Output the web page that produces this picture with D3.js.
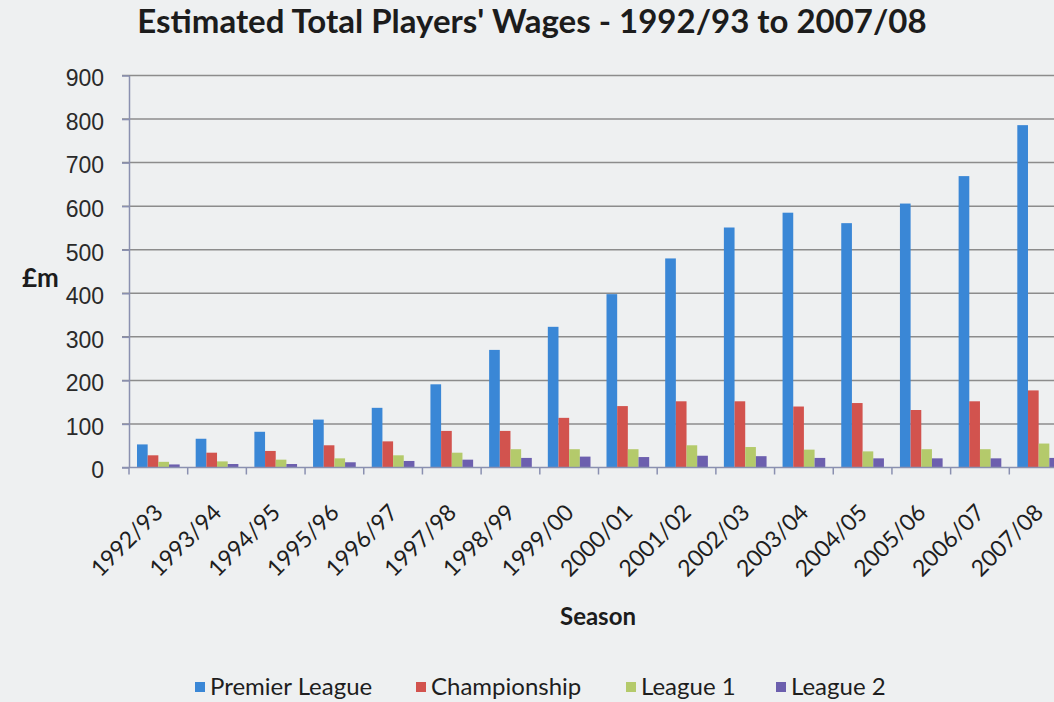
<!DOCTYPE html>
<html lang="en">
<head>
<meta charset="utf-8">
<title>Estimated Total Players' Wages</title>
<script src="https://d3js.org/d3.v7.min.js"></script>
<style>
  body { margin: 0; background: #eef0f1; }
  svg { display: block; font-family: Lato, "Open Sans", sans-serif; }
  .grid line { stroke: #8c8c8c; stroke-width: 1.5px; }
  .axis path, .axis line { stroke: #8a90b0; stroke-width: 1.5px; }
  .axis text { font-size: 23px; fill: #2a2a2a; }
</style>
</head>
<body>
<div id="chart"></div>
<script>
// values (£m)
var seasons = ["1992/93","1993/94","1994/95","1995/96","1996/97","1997/98","1998/99","1999/00",
               "2000/01","2001/02","2002/03","2003/04","2004/05","2005/06","2006/07","2007/08"]
var premierLeague = [53, 66, 82, 110, 137, 191, 270, 323, 398, 480, 551, 585, 561, 606, 669, 786]
var championship  = [28, 34, 38, 51, 60, 84, 84, 114, 141, 152, 152, 140, 148, 132, 152, 177]
var league1       = [13, 14, 18, 21, 28, 34, 42, 42, 42, 51, 47, 41, 37, 42, 42, 55]
var league2       = [7, 8, 8, 12, 15, 18, 22, 25, 24, 27, 26, 22, 21, 21, 21, 22]
var seriesNames = ["Premier League", "Championship", "League 1", "League 2"]
var seriesColors = ["#3a87d6", "#d2534e", "#b4ca6b", "#6c5fae"]
var yTicks = [0, 100, 200, 300, 400, 500, 600, 700, 800, 900]

var w = 1054, h = 702
var plotLeft = 129, plotRight = 1068, plotTop = 75.5, plotBottom = 467.5

var svg = d3.select("#chart").append("svg")
    .attr("width", w).attr("height", h)

var allSeries = [premierLeague, championship, league1, league2]
var data = seasons.map(function(s, i) {
    return { season: s, values: allSeries.map(function(arr, k) { return { key: seriesNames[k], value: arr[i] } }) }
})

var x0 = d3.scaleBand().domain(seasons).range([plotLeft, plotRight])
var x1 = d3.scaleBand().domain(seriesNames).range([0, x0.bandwidth()]).paddingOuter(0.75)
var y = d3.scaleLinear().domain([0, 900]).range([plotBottom, plotTop])
var color = d3.scaleOrdinal().domain(seriesNames).range(seriesColors)

// gridlines
svg.append("g").attr("class", "grid")
    .selectAll("line").data(yTicks.slice(1)).enter().append("line")
    .attr("x1", plotLeft - 7).attr("x2", plotRight)
    .attr("y1", function(d) { return y(d) }).attr("y2", function(d) { return y(d) })

// bars
var groups = svg.append("g").selectAll("g").data(data).enter().append("g")
    .attr("transform", function(d) { return "translate(" + x0(d.season) + ",0)" })
groups.selectAll("rect").data(function(d) { return d.values }).enter().append("rect")
    .attr("x", function(d) { return x1(d.key) })
    .attr("width", x1.bandwidth())
    .attr("y", function(d) { return y(d.value) })
    .attr("height", function(d) { return y(0) - y(d.value) })
    .attr("fill", function(d) { return color(d.key) })

// y axis
var yAxis = d3.axisLeft(y).tickValues(yTicks).tickSize(7).tickSizeOuter(0).tickPadding(18)
svg.append("g").attr("class", "axis")
    .attr("transform", "translate(" + plotLeft + ",0)")
    .call(yAxis)
    .selectAll("text").attr("dy", "0.45em")

// x axis: line plus ticks at category boundaries
var xAxis = d3.axisBottom(x0).tickSize(0).tickSizeOuter(0).tickFormat("")
var gx = svg.append("g").attr("class", "axis")
    .attr("transform", "translate(0," + plotBottom + ")")
    .call(xAxis)
gx.select(".domain").attr("d", "M" + (plotLeft - 7) + ",0H" + plotRight)
gx.selectAll(".bound").data(seasons).enter().append("line")
    .attr("class", "bound")
    .attr("x1", function(d) { return x0(d) }).attr("x2", function(d) { return x0(d) })
    .attr("y1", 0).attr("y2", 7)

// rotated category labels
svg.append("g").selectAll("text").data(seasons).enter().append("text")
    .attr("transform", function(d) {
        return "translate(" + (x0(d) + x0.bandwidth() / 2 + 6) + ",514) rotate(-45)"
    })
    .attr("text-anchor", "end")
    .style("font-size", "23px").style("fill", "#1e1e1e")
    .text(function(d) { return d })

// titles
svg.append("text")
    .attr("x", 532).attr("y", 33)
    .attr("text-anchor", "middle")
    .style("font-size", "33px").style("font-weight", "bold").style("fill", "#1c1c1c")
    .text("Estimated Total Players' Wages - 1992/93 to 2007/08")

svg.append("text")
    .attr("x", 22).attr("y", 287)
    .style("font-size", "26px").style("font-weight", "bold").style("fill", "#1c1c1c")
    .text("£m")

svg.append("text")
    .attr("x", 598).attr("y", 625)
    .attr("text-anchor", "middle")
    .style("font-size", "24px").style("font-weight", "bold").style("fill", "#1c1c1c")
    .text("Season")

// legend
var legendX = [195, 416, 626, 776]
var legend = svg.append("g").selectAll("g").data(seriesNames).enter().append("g")
    .attr("transform", function(d, i) { return "translate(" + legendX[i] + ",682)" })
legend.append("rect").attr("width", 10).attr("height", 10)
    .attr("fill", function(d) { return color(d) })
legend.append("text").attr("x", 15).attr("y", 13)
    .style("font-size", "24px").style("fill", "#1e1e1e")
    .text(function(d) { return d })
</script>
</body>
</html>
